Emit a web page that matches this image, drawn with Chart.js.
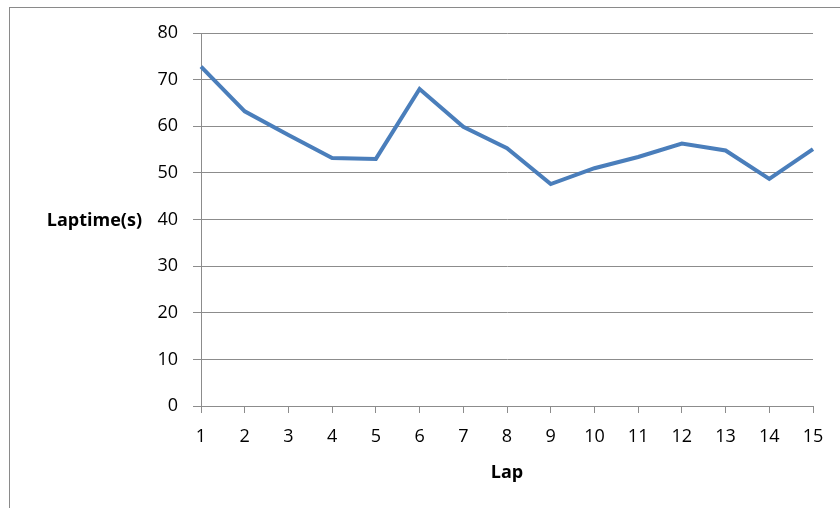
<!DOCTYPE html>
<html>
<head>
<meta charset="utf-8">
<script src="https://cdn.jsdelivr.net/npm/chart.js@4"></script>
<style>
  html, body { margin: 0; padding: 0; background: #fff; }
  #wrap { width: 840px; height: 508px; position: relative; }
</style>
</head>
<body>
<div id="wrap"><canvas id="lapChart" width="840" height="508"></canvas></div>
<script>
// --- chart data ---
const laps = ['1','2','3','4','5','6','7','8','9','10','11','12','13','14','15'];
const lapTimes = [72.8, 63.2, 58.1, 53.2, 53.0, 68.0, 59.9, 55.3, 47.6, 51.0, 53.4, 56.3, 54.8, 48.7, 55.1];
const yTicks = [0, 10, 20, 30, 40, 50, 60, 70, 80];

const gridGray = '#8c8c8c';
const fontFamily = '"Open Sans", "Liberation Sans", sans-serif';

// outer frame + horizontal y-axis title, like the excel chart
const framePlugin = {
  id: 'frame',
  beforeDraw(chart) {
    const ctx = chart.ctx;
    ctx.save();
    ctx.fillStyle = '#fff';
    ctx.fillRect(0, 0, chart.width, chart.height);
    ctx.strokeStyle = '#8a8a8a';
    ctx.lineWidth = 1;
    ctx.strokeRect(9.5, 7.5, 900, 600);
    ctx.restore();
  },
  afterDraw(chart) {
    const ctx = chart.ctx;
    ctx.save();
    ctx.font = 'bold 18px ' + fontFamily;
    ctx.fillStyle = '#000';
    ctx.textAlign = 'right';
    ctx.textBaseline = 'alphabetic';
    ctx.fillText('Laptime(s)', 142, 226);
    ctx.restore();
  }
};

new Chart(document.getElementById('lapChart'), {
  type: 'line',
  data: {
    labels: laps,
    datasets: [{
      data: lapTimes,
      borderColor: '#4a7ebb',
      borderWidth: 4,
      pointRadius: 0,
      tension: 0,
      fill: false
    }]
  },
  options: {
    responsive: false,
    animation: false,
    layout: { padding: { top: 33, right: 27, left: 0, bottom: 0 } },
    plugins: {
      legend: { display: false },
      tooltip: { enabled: false }
    },
    scales: {
      x: {
        offset: false,
        afterFit: (s) => { s.height = 102; },
        grid: { drawOnChartArea: false, drawTicks: true, tickLength: 7, color: gridGray },
        border: { color: gridGray, width: 1 },
        ticks: { color: '#000', padding: 13, maxRotation: 0, autoSkip: false,
                 font: { family: fontFamily, size: 18 } },
        title: { display: true, text: 'Lap', color: '#000', padding: { top: 0, bottom: 24 },
                 font: { family: fontFamily, size: 18, weight: 'bold' } }
      },
      y: {
        min: 0,
        max: 80,
        afterFit: (s) => { s.width = 201; },
        afterBuildTicks: (s) => { s.ticks = yTicks.map(v => ({ value: v })); },
        grid: { color: gridGray, drawTicks: true, tickLength: 8 },
        border: { color: gridGray, width: 1 },
        ticks: { color: '#000', padding: 15,
                 font: { family: fontFamily, size: 18 } }
      }
    }
  },
  plugins: [framePlugin]
});
</script>
</body>
</html>
